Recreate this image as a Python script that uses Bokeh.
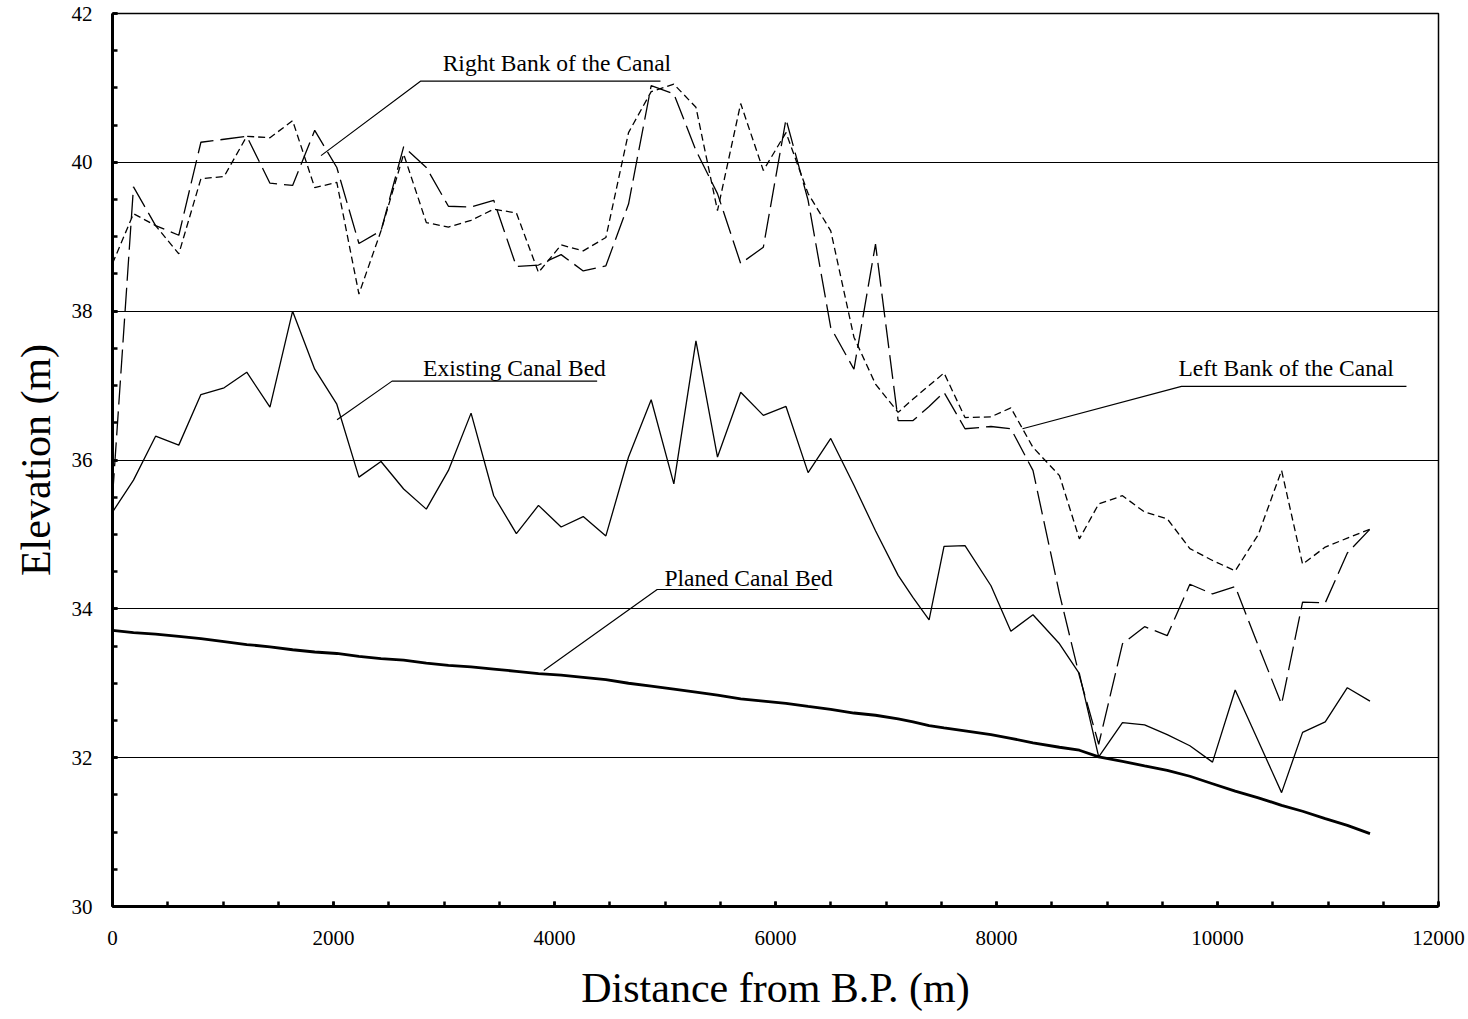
from bokeh.plotting import figure
from bokeh.models import SingleIntervalTicker, Range1d
from bokeh.core.properties import value
from bokeh.embed import file_html
from bokeh.resources import INLINE

# ---------------- data ----------------
station = [0, 190, 390, 600, 800, 1010, 1215, 1425, 1630, 1830,
           2030, 2230, 2430, 2635, 2840, 3040, 3245, 3450, 3655, 3855,
           4060, 4260, 4465, 4670, 4875, 5080, 5280, 5475, 5685, 5890,
           6095, 6295, 6500, 6710, 6905, 7110, 7245, 7390, 7525, 7715,
           7950, 8130, 8330, 8570, 8750, 8925, 9140, 9340, 9545, 9750,
           9955, 10160, 10370, 10580, 10770, 10975, 11175, 11380]

existing_bed = [35.30, 35.73, 36.32, 36.20, 36.88, 36.97, 37.18, 36.71, 38.00, 37.22,
                36.75, 35.77, 35.98, 35.61, 35.34, 35.86, 36.63, 35.52, 35.01, 35.39,
                35.10, 35.24, 34.98, 36.04, 36.81, 35.68, 37.60, 36.04, 36.91, 36.60,
                36.72, 35.83, 36.29, 35.66, 35.05, 34.45, 34.15, 33.85, 34.84, 34.85,
                34.31, 33.70, 33.92, 33.53, 33.13, 32.01, 32.47, 32.44, 32.31, 32.16,
                31.94, 32.91, 32.22, 31.53, 32.34, 32.48, 32.94, 32.76]

planned_bed = [33.71, 33.68, 33.66, 33.63, 33.60, 33.56, 33.52, 33.49, 33.45, 33.42,
               33.40, 33.36, 33.33, 33.31, 33.27, 33.24, 33.22, 33.19, 33.16, 33.13,
               33.11, 33.08, 33.05, 33.00, 32.96, 32.92, 32.88, 32.84, 32.79, 32.76,
               32.73, 32.69, 32.65, 32.60, 32.57, 32.52, 32.48, 32.43, 32.40, 32.36,
               32.31, 32.26, 32.20, 32.14, 32.10, 32.01, 31.95, 31.89, 31.83, 31.75,
               31.65, 31.55, 31.46, 31.36, 31.28, 31.18, 31.09, 30.98]

left_bank = [38.64, 39.31, 39.15, 38.77, 39.78, 39.81, 40.35, 40.33, 40.56, 39.66,
             39.73, 38.23, 39.08, 40.11, 39.19, 39.13, 39.22, 39.37, 39.32, 38.52,
             38.89, 38.81, 38.99, 40.40, 40.95, 41.05, 40.74, 39.35, 40.79, 39.89,
             40.40, 39.58, 39.08, 37.65, 37.02, 36.64, 36.82, 37.00, 37.17, 36.57,
             36.58, 36.70, 36.17, 35.79, 34.94, 35.41, 35.52, 35.30, 35.21, 34.81,
             34.65, 34.51, 35.00, 35.86, 34.60, 34.83, 34.95, 35.07]

right_bank = [35.50, 39.67, 39.15, 39.02, 40.27, 40.31, 40.35, 39.72, 39.69, 40.43,
              39.93, 38.91, 39.08, 40.21, 39.93, 39.41, 39.40, 39.49, 38.60, 38.62,
              38.76, 38.54, 38.61, 39.44, 41.03, 40.92, 40.16, 39.58, 38.64, 38.86,
              40.58, 39.49, 37.78, 37.22, 38.90, 36.53, 36.53, 36.72, 36.91, 36.42,
              36.45, 36.42, 35.86, 34.20, 33.10, 32.18, 33.53, 33.76, 33.64, 34.33,
              34.20, 34.30, 33.50, 32.72, 34.09, 34.08, 34.75, 35.07]

x_ticks_interval = 2000
y_ticks_interval = 2

# label texts and leader geometry (label -> point on curve, elbow, underline end, text anchor)
labels = ["Right Bank of the Canal", "Existing Canal Bed", "Left Bank of the Canal", "Planed Canal Bed"]
leader_from_x = [1887, 2032, 8235, 3903]
leader_from_y = [40.09, 36.54, 36.42, 33.17]
elbow_x = [2787, 2530, 9674, 4929]
elbow_y = [41.09, 37.06, 36.99, 34.26]
under_end_x = [4959, 4386, 11710, 6383]
text_x = [2988, 2811, 9647, 4995]
text_y = [41.33, 37.23, 37.23, 34.42]

SERIF = "Liberation Serif"

p = figure(width=1468, height=1019, output_backend="svg", toolbar_location=None,
           x_range=Range1d(0, 12000), y_range=Range1d(30, 42),
           min_border_left=112, min_border_top=13, min_border_right=30, min_border_bottom=113,
           background_fill_color="white", border_fill_color="white")

p.outline_line_color = "black"
p.outline_line_width = 1.5

p.xaxis.ticker = SingleIntervalTicker(interval=x_ticks_interval, num_minor_ticks=4)
p.yaxis.ticker = SingleIntervalTicker(interval=y_ticks_interval, num_minor_ticks=4)
for ax in (p.xaxis, p.yaxis):
    ax.axis_line_width = 3
    ax.axis_line_color = "black"
    ax.major_tick_in = 5
    ax.major_tick_out = 0
    ax.minor_tick_in = 5
    ax.minor_tick_out = 0
    ax.major_tick_line_width = 2.5
    ax.minor_tick_line_width = 2.5
    ax.major_tick_line_color = "black"
    ax.minor_tick_line_color = "black"
    ax.major_label_text_font = SERIF
    ax.major_label_text_font_size = "21px"
    ax.major_label_text_color = "black"
    ax.axis_label_text_font = SERIF
    ax.axis_label_text_font_size = "42px"
    ax.axis_label_text_font_style = "normal"
    ax.axis_label_text_color = "black"

p.xaxis.axis_label = "Distance from B.P. (m)"
p.yaxis.axis_label = "Elevation (m)"
p.xaxis.major_label_standoff = 24
p.xaxis.axis_label_standoff = 17
p.yaxis.major_label_standoff = 20
p.yaxis.axis_label_standoff = 10

p.xgrid.visible = False
p.ygrid.grid_line_color = "black"
p.ygrid.grid_line_width = 1
p.ygrid.ticker = SingleIntervalTicker(interval=y_ticks_interval)

# series
p.line(station, planned_bed, line_color="black", line_width=2.8)
p.line(station, existing_bed, line_color="black", line_width=1.3)
p.line(station, left_bank, line_color="black", line_width=1.3, line_dash="7 4")
p.line(station, right_bank, line_color="black", line_width=1.3, line_dash="24 7")

# leader lines and labels
for i in range(len(labels)):
    p.line([leader_from_x[i], elbow_x[i], under_end_x[i]],
           [leader_from_y[i], elbow_y[i], elbow_y[i]],
           line_color="black", line_width=1.2)

p.text(x=text_x, y=text_y, text=labels, text_font=value(SERIF), text_font_size="23.5px",
       text_color="black", text_align="left", text_baseline="alphabetic")

open("out.html", "w").write(file_html(p, INLINE))
